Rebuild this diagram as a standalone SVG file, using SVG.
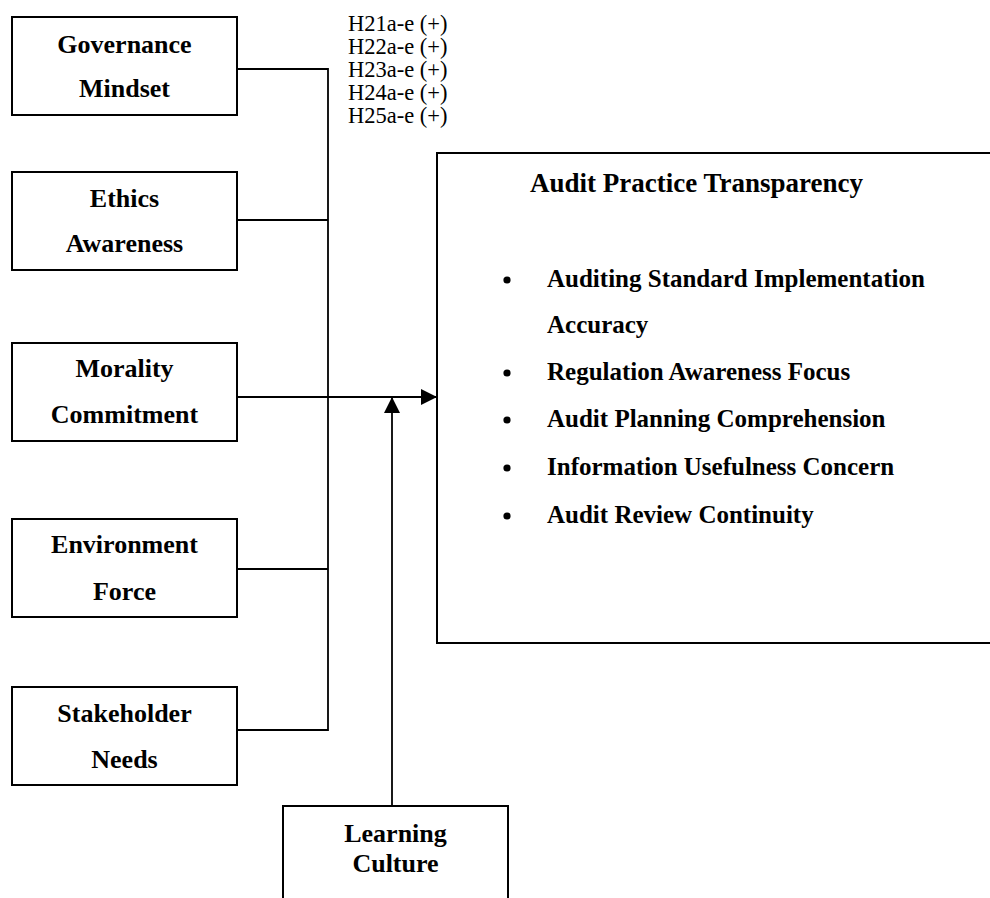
<svg xmlns="http://www.w3.org/2000/svg" width="990" height="898" viewBox="0 0 990 898">
  <style>
    .box { fill: #ffffff; stroke: #000000; stroke-width: 2; }
    .lbl { font-family: "Liberation Serif", "Times New Roman", serif; font-weight: bold; font-size: 26px; text-anchor: middle; fill: #000; }
    .hyp { font-family: "Liberation Serif", "Times New Roman", serif; font-size: 22.5px; fill: #000; }
    .title { font-family: "Liberation Serif", "Times New Roman", serif; font-weight: bold; font-size: 27px; fill: #000; }
    .item { font-family: "Liberation Serif", "Times New Roman", serif; font-weight: bold; font-size: 25px; fill: #000; }
    .wire { fill: none; stroke: #000000; stroke-width: 1.8; }
  </style>
  <defs>
    <marker id="head" viewBox="0 0 10 10" refX="10" refY="5" markerUnits="userSpaceOnUse" markerWidth="16" markerHeight="16" orient="auto">
      <path d="M0,0 L10,5 L0,10 Z" fill="#000"/>
    </marker>
  </defs>

  <rect width="990" height="898" fill="#ffffff"/>

  <!-- hypothesis labels -->
  <g id="hypotheses">
    <text class="hyp" x="348" y="31">H21a-e (+)</text>
    <text class="hyp" x="348" y="54">H22a-e (+)</text>
    <text class="hyp" x="348" y="77">H23a-e (+)</text>
    <text class="hyp" x="348" y="100">H24a-e (+)</text>
    <text class="hyp" x="348" y="123">H25a-e (+)</text>
  </g>

  <!-- connectors -->
  <g id="connectors">
    <polyline class="wire" points="237,69 328,69 328,730 237,730"/>
    <line class="wire" x1="237" y1="220" x2="328" y2="220"/>
    <line class="wire" x1="237" y1="569" x2="328" y2="569"/>
    <line class="wire" x1="237" y1="397" x2="437" y2="397" marker-end="url(#head)"/>
    <line class="wire" x1="392" y1="806" x2="392" y2="397" marker-end="url(#head)"/>
  </g>

  <!-- independent constructs -->
  <g id="governance-mindset">
    <rect class="box" x="12" y="17" width="225" height="98"/>
    <text class="lbl" x="124.5" y="53">Governance</text>
    <text class="lbl" x="124.5" y="97">Mindset</text>
  </g>
  <g id="ethics-awareness">
    <rect class="box" x="12" y="172" width="225" height="98"/>
    <text class="lbl" x="124.5" y="207">Ethics</text>
    <text class="lbl" x="124.5" y="252">Awareness</text>
  </g>
  <g id="morality-commitment">
    <rect class="box" x="12" y="343" width="225" height="98"/>
    <text class="lbl" x="124.5" y="377">Morality</text>
    <text class="lbl" x="124.5" y="423">Commitment</text>
  </g>
  <g id="environment-force">
    <rect class="box" x="12" y="519" width="225" height="98"/>
    <text class="lbl" x="124.5" y="553">Environment</text>
    <text class="lbl" x="124.5" y="600">Force</text>
  </g>
  <g id="stakeholder-needs">
    <rect class="box" x="12" y="687" width="225" height="98"/>
    <text class="lbl" x="124.5" y="722">Stakeholder</text>
    <text class="lbl" x="124.5" y="768">Needs</text>
  </g>

  <!-- moderator -->
  <g id="learning-culture">
    <rect class="box" x="283" y="806" width="225" height="110"/>
    <text class="lbl" x="395.5" y="842">Learning</text>
    <text class="lbl" x="395.5" y="872">Culture</text>
  </g>

  <!-- dependent construct -->
  <g id="audit-practice-transparency">
    <rect class="box" x="437" y="153" width="560" height="490"/>
    <text class="title" x="530" y="192">Audit Practice Transparency</text>
    <g class="item">
      <circle cx="507" cy="280" r="3.6" fill="#000"/>
      <text class="item" x="547" y="287">Auditing Standard Implementation</text>
      <text class="item" x="547" y="333">Accuracy</text>
      <circle cx="507" cy="373" r="3.6" fill="#000"/>
      <text class="item" x="547" y="380">Regulation Awareness Focus</text>
      <circle cx="507" cy="420" r="3.6" fill="#000"/>
      <text class="item" x="547" y="427">Audit Planning Comprehension</text>
      <circle cx="507" cy="468" r="3.6" fill="#000"/>
      <text class="item" x="547" y="475">Information Usefulness Concern</text>
      <circle cx="507" cy="516" r="3.6" fill="#000"/>
      <text class="item" x="547" y="523">Audit Review Continuity</text>
    </g>
  </g>
</svg>
